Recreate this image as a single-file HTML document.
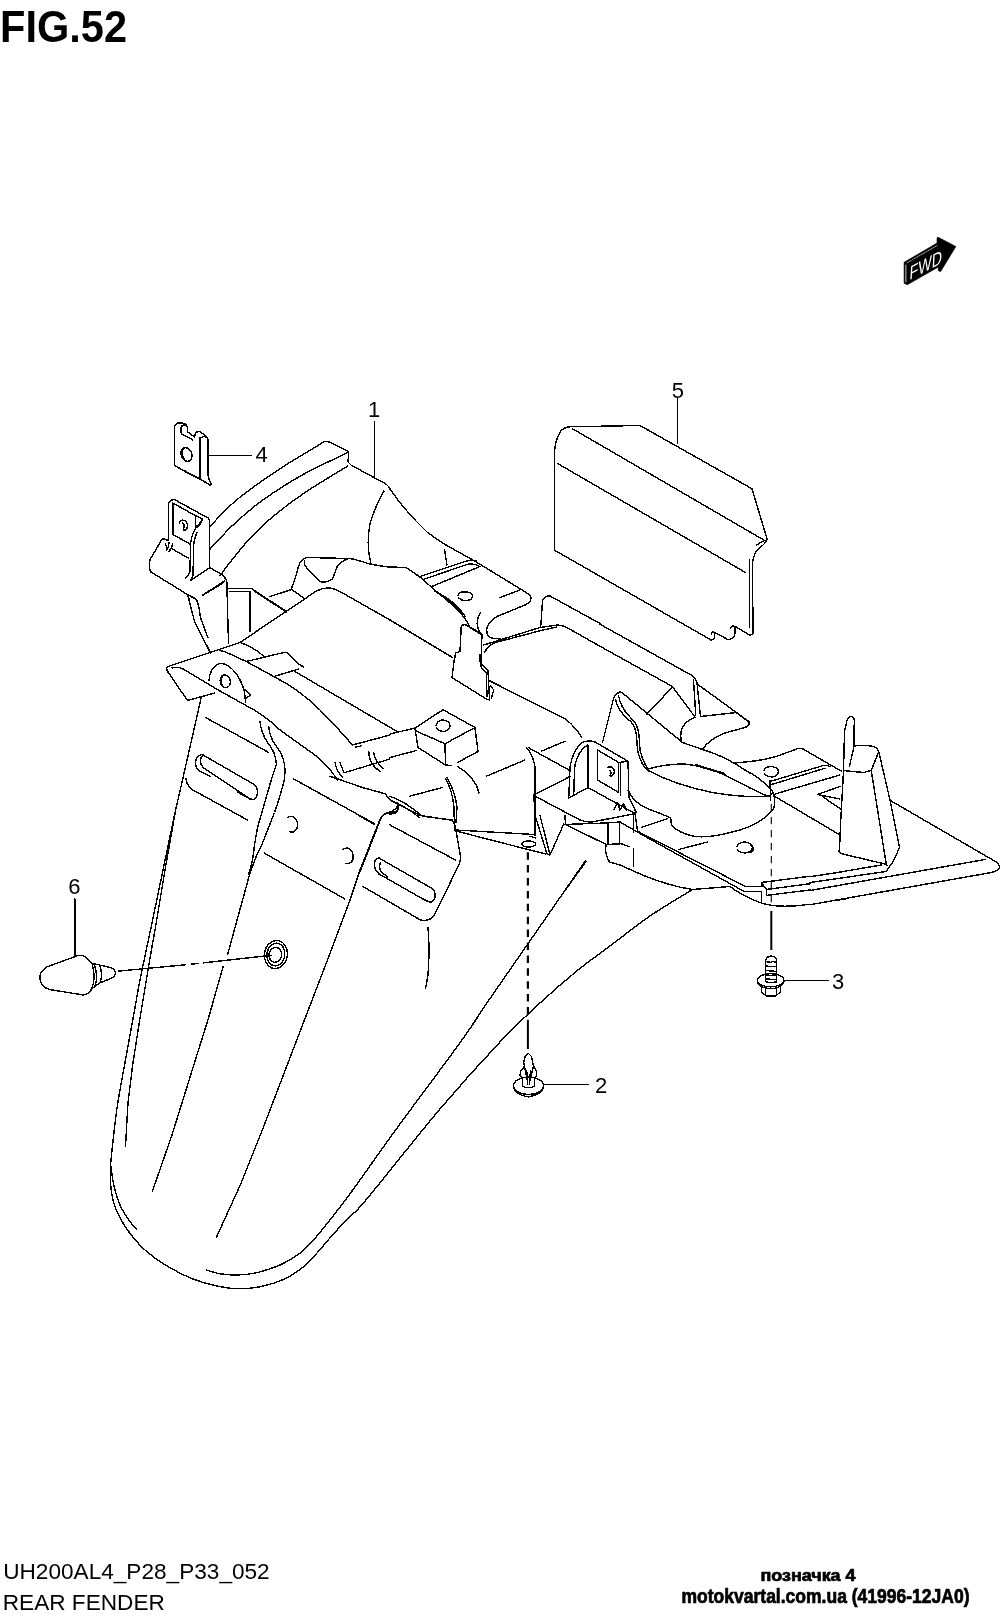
<!DOCTYPE html>
<html><head><meta charset="utf-8"><title>FIG.52 REAR FENDER</title>
<style>
html,body{margin:0;padding:0;background:#fff;}
body{width:1000px;height:1622px;overflow:hidden;font-family:"Liberation Sans",sans-serif;}
svg{display:block;position:absolute;left:0;top:0;}
svg text{font-family:"Liberation Sans",sans-serif;fill:#000;stroke:none;}
.ln path,.ln line,.ln polyline,.ln ellipse,.ln circle{vector-effect:non-scaling-stroke;}
</style></head><body>
<svg width="1000" height="1622" viewBox="0 0 1000 1622" style="filter:grayscale(1)">
<rect x="0" y="0" width="1000" height="1622" fill="#fff"/>
<!-- 00_text.frag -->
<g id="labels">
<text x="0" y="41.6" font-size="44.3" font-weight="bold" textLength="127" lengthAdjust="spacingAndGlyphs">FIG.52</text>
<text x="3.2" y="1578.5" font-size="22" textLength="266.5" lengthAdjust="spacingAndGlyphs">UH200AL4_P28_P33_052</text>
<text x="2.8" y="1610.2" font-size="22" textLength="162" lengthAdjust="spacingAndGlyphs">REAR FENDER</text>
<g stroke="#000" stroke-width="0.7" stroke-linejoin="round">
<text x="808" y="1580.5" font-size="16" font-weight="bold" text-anchor="middle" textLength="95" lengthAdjust="spacingAndGlyphs" style="stroke:#000">позначка 4</text>
<text x="681.5" y="1603" font-size="19.5" font-weight="bold" textLength="288" lengthAdjust="spacingAndGlyphs" style="stroke:#000">motokvartal.com.ua (41996-12JA0)</text>
</g>
</g>
<!-- 10_A1.frag -->
<!-- tile [140,400,390,600] x4 -->
<g class="ln" transform="translate(140,400) scale(0.25)" fill="none" stroke="#000" stroke-width="1.4" shape-rendering="crispEdges" stroke-linecap="round" stroke-linejoin="round">
<!-- clip 4 -->
<path d="M137,262 L137,112 Q139,92 160,91 Q186,92 190,110 L190,127 L218,148 L222,132 Q226,126 240,127 L262,142 Q272,148 272,160 L272,298 Q274,322 286,338 L280,340 L240,316 L137,262"/>
<path d="M190,110 Q186,100 176,100 Q164,102 164,116 L165,135 L212,160"/>
<path d="M240,150 L240,316"/>
<path d="M243,152 Q256,140 268,152"/>
<path d="M180,286 L240,317 M178,283 L238,314"/>
<ellipse cx="186" cy="218" rx="21" ry="28" transform="rotate(-22 186 218)"/>
<path d="M172,196 Q162,214 178,240"/>
<path d="M273,222 L447,222"/>
</g>
<text x="261.5" y="461.8" font-size="22" text-anchor="middle">4</text>
<g class="ln" transform="translate(140,400) scale(0.25)" fill="none" stroke="#000" stroke-width="1.4" shape-rendering="crispEdges" stroke-linecap="round" stroke-linejoin="round">
<!-- fender top arcs -->
<path d="M976,364 Q940,424 920,496 Q908,560 916,616 L924,654"/>
<path d="M836,634 L856,637 L920,656 L952,662 L1000,669"/>
<path d="M938,88 L938,306"/>
<!-- pocket shape -->
<path d="M607,752 L628,690 Q635,640 665,630 L836,634 Q800,645 788,668 L770,716 Q745,735 718,726 L664,668 Q652,650 660,640"/>
</g>
<text x="374" y="417" font-size="22" text-anchor="middle">1</text>
<!-- 10b_arcs.frag -->
<!-- fender top arcs (source coords) -->
<g class="ln" fill="none" stroke="#000" stroke-width="1.4" shape-rendering="crispEdges" stroke-linecap="round" stroke-linejoin="round">
<path d="M209.9,526.8 C212.2,524.3 219.0,516.5 224.0,511.6 C229.0,506.7 233.3,502.5 240.0,497.2 C246.7,491.9 256.0,485.2 264.0,479.6 C272.0,474.0 280.0,468.7 288.0,463.6 C296.0,458.5 306.1,452.8 312.0,449.2 C317.9,445.6 321.3,443.2 323.2,442.0 Q325.5,440.8 328,441.5 L347.2,450.8 Q348.8,452 348.5,454.5 L348,462 L351.2,465.2 L386,484"/>
<path d="M209.9,549.2 C213.6,545.3 224.3,533.3 232.0,526.0 C239.7,518.7 248.0,511.5 256.0,505.2 C264.0,498.9 272.0,493.6 280.0,488.4 C288.0,483.2 296.0,478.4 304.0,474.0 C312.0,469.6 321.2,465.3 328.0,462.0 C334.8,458.7 342.0,455.6 347.5,452.6"/>
<path d="M220,576 Q226,567 233.6,558.0 C236.0,555.1 242.9,546.0 248.0,540.4 C253.1,534.8 258.7,529.3 264.0,524.4 C269.3,519.5 273.3,516.0 280.0,510.8 C286.7,505.6 296.0,498.7 304.0,493.2 C312.0,487.7 320.7,482.5 328.0,478.0 C335.3,473.5 344.7,468.0 348.0,466.0"/>
</g>
<!-- 11_A1b.frag -->
<!-- tile [140,480,300,608] x6.25 : bracket -->
<g class="ln" transform="translate(140,480) scale(0.16)" fill="none" stroke="#000" stroke-width="1.4" shape-rendering="crispEdges" stroke-linecap="round" stroke-linejoin="round">
<path d="M180,378 L178,150 Q184,124 215,122 L428,239 Q436,246 436,265 L436,548"/>
<path d="M205,142 L205,340 L312,400"/>
<path d="M208,145 L345,222 L392,246 L350,300 L345,222"/>
<path d="M200,430 L305,490"/>
<path d="M392,246 Q375,285 350,300 Q322,340 316,400 L312,575 Q305,600 285,612"/>
<path d="M356,330 Q336,370 334,420 L332,590 Q328,612 318,626 L436,548"/>
<path d="M246,268 Q256,244 280,254 Q300,270 296,296 Q290,316 274,314"/>
<path d="M268,268 Q282,284 272,308"/>
<path d="M180,378 L140,366 L62,498 Q54,530 64,572 L300,718 L345,742 Q362,760 368,800"/>
<path d="M300,718 L318,800"/>
<path d="M160,400 L172,436 M182,392 L176,420 L166,440 M204,398 L196,426 L180,448"/>
<path d="M436,548 L520,596 Q542,620 546,650 L548,800"/>
<path d="M390,720 L527,632"/>
</g>
<!-- 12_A2.frag -->
<!-- tile [390,480,640,680] x4 -->
<g class="ln" transform="translate(390,480) scale(0.25)" fill="none" stroke="#000" stroke-width="1.4" shape-rendering="crispEdges" stroke-linecap="round" stroke-linejoin="round">
<path d="M-16,16 Q-6,24 0,36 Q60,125 150,210 L215,255 L340,325 L545,450 Q572,465 560,486 Q555,494 540,500 L430,545 Q395,565 388,590 Q382,620 405,632 L440,636"/>
<path d="M218,278 L228,340"/>
<path d="M120,386 L300,326 Q320,320 345,323"/>
<path d="M130,399 L310,337 Q335,332 360,346 L165,427"/>
<path d="M0,347 L65,351 L120,388 L165,428 L250,500 Q300,545 320,590 L370,622"/>
<path d="M180,445 Q250,480 290,540 M200,455 Q270,495 300,545"/>
<path d="M440,470 L520,440"/>
<path d="M272,462 Q276,446 295,448 Q322,446 330,462 Q332,478 310,482 Q284,484 274,470"/>
<path d="M362,530 Q335,575 362,612"/>
<path d="M375,660 L600,590 L672,580 L700,586 L840,665"/>
<path d="M378,690 Q395,655 430,648 L600,603 L668,588"/>
<path d="M603,586 L610,482 Q618,462 640,464 L840,574"/>
<path d="M258,720 L262,692 L280,686 L285,586 Q292,576 305,580 L368,616 L364,720"/>
<path d="M358,700 L359,720"/>
<path d="M0,560 L250,710"/>
</g>
<!-- 13_part5.frag -->
<!-- part 5: tile [530,410,780,610] x4 -->
<g class="ln" transform="translate(530,410) scale(0.25)" fill="none" stroke="#000" stroke-width="1.4" shape-rendering="crispEdges" stroke-linecap="round" stroke-linejoin="round">
<path d="M97,560 L97,190 Q97,120 125,82 Q140,68 162,67 L440,62 L888,315 L948,515 Q950,524 930,542 Q896,560 890,612 L892,892"/>
<path d="M170,75 L935,520 M905,542 Q925,525 942,522"/>
<path d="M112,215 L862,650"/>
<path d="M878,600 L878,870"/>
<path d="M590,-46 L590,135"/>
</g>
<g class="ln" fill="none" stroke="#000" stroke-width="1.4" shape-rendering="crispEdges" stroke-linecap="round" stroke-linejoin="round">
<path d="M753,633 Q752.5,635 750,635.3 L735,626.4 L734.8,635.5 Q733,639.5 727.5,639.4 L715,632.5 L714.4,638 Q713,640.5 711,640 L554.2,550"/>
<path d="M735,626.4 Q731,625 730.8,628.5 M715,632.5 Q711.5,631 711.4,634.5"/>
</g>
<text x="677.8" y="397.5" font-size="22" text-anchor="middle">5</text>
<!-- 14_B1.frag -->
<!-- tile [140,580,390,780] x4 -->
<g class="ln" transform="translate(140,580) scale(0.25)" fill="none" stroke="#000" stroke-width="1.4" shape-rendering="crispEdges" stroke-linecap="round" stroke-linejoin="round">
<path d="M190,58 L218,165 L282,292"/>
<path d="M215,70 Q232,80 236,110 L242,150 L272,232"/>
<path d="M250,62 L335,10"/>
<path d="M347,0 L354,255"/>
<path d="M352,34 L445,34 L585,125"/>
<path d="M357,46 L440,46 L440,205"/>
<path d="M456,44 L585,128"/>
<path d="M520,66 L607,38 M607,38 L660,76"/>
<path d="M115,345 L400,250 L585,125 L660,76 Q715,28 760,32 Q780,35 800,46 L1000,160"/>
<path d="M400,250 Q450,265 495,305"/>
<path d="M300,452 L190,482 L112,368 Q100,350 115,345"/>
<path d="M128,352 Q150,345 172,356 L320,444 L460,522 Q520,560 560,600 L700,700 Q760,750 790,800"/>
<path d="M320,282 Q340,284 360,296 L425,326 L535,386 Q640,440 720,520 Q790,590 850,660 L1000,620"/>
<path d="M425,326 L575,290 Q586,288 592,294 L640,340 L656,348"/>
<path d="M535,386 L636,356"/>
<path d="M620,366 L1035,610"/>
<path d="M862,668 L884,664"/>
<path d="M276,402 Q278,350 320,333 Q355,335 385,375 Q410,410 418,450 L422,488"/>
<ellipse cx="341" cy="405" rx="20" ry="26" transform="rotate(-15 341 405)"/>
<path d="M330,384 Q318,405 334,428"/>
<path d="M420,440 L442,460 L425,472"/>
<path d="M245,470 L170,800"/>
<path d="M262,550 L515,690"/>
<path d="M480,565 Q484,610 510,650 Q545,690 545,740 L525,800"/>
<path d="M515,585 Q516,625 545,665 Q578,705 580,760 L578,800"/>
<path d="M780,730 Q785,765 812,792 M800,730 L816,772"/>
<path d="M915,685 Q915,735 960,766 M935,690 Q940,730 976,756"/>
<path d="M820,770 L1000,716"/>
</g>
<!-- 15_B2.frag -->
<!-- tile [390,660,640,860] x4 -->
<g class="ln" transform="translate(390,660) scale(0.25)" fill="none" stroke="#000" stroke-width="1.4" shape-rendering="crispEdges" stroke-linecap="round" stroke-linejoin="round">
<path d="M257,0 L248,70 L388,158 L398,160 L392,42 L366,18 L364,0"/>
<path d="M359,0 L365,30 L385,50 L388,145"/>
<path d="M400,100 L415,120 L405,155"/>
<path d="M396,82 L700,235 Q745,270 768,312"/>
<path d="M0,296 L100,272 L212,199 L340,270 L220,335 L104,284"/>
<path d="M100,274 L112,350 L222,420 L246,422 M220,335 L222,420 M340,272 L352,366 L270,410"/>
<path d="M184,262 Q188,244 208,240 Q236,240 240,262 Q240,282 214,286 Q192,284 186,272"/>
<path d="M0,390 L106,362"/>
<path d="M78,545 L210,510 M385,465 L540,400 M605,365 L700,325"/>
<path d="M222,476 Q250,520 256,590 L258,682"/>
<path d="M228,470 Q262,530 268,590 L264,650"/>
<path d="M270,426 Q320,455 345,500 L356,532"/>
<path d="M0,545 Q60,565 130,625 L250,640"/>
<path d="M0,560 Q55,580 120,632"/>
<path d="M0,660 L262,800"/>
<path d="M30,575 Q40,600 18,614 L0,616"/>
<path d="M262,680 L578,698 M264,684 L622,776"/>
<path d="M546,350 Q575,385 580,430 L580,700"/>
<path d="M556,352 L716,440"/>
<path d="M720,466 L575,540 L580,620 L628,776 L640,780 L695,656"/>
<path d="M600,622 L640,780"/>
<path d="M586,548 L760,640 Q790,652 820,646 L976,615"/>
<path d="M715,552 L720,430 Q728,370 765,332 Q790,318 820,328 L952,405 L956,550 L985,610"/>
<path d="M735,538 L738,435 Q745,375 782,346 L792,340 L792,510 L715,552 M792,510 L976,612"/>
<path d="M830,360 L830,480 L915,530 L915,410 Z M915,410 L952,405 M921,416 L922,540"/>
<path d="M868,432 Q884,420 896,438 Q902,460 882,466 M880,440 Q888,450 880,462"/>
<path d="M896,600 L910,570 L920,600 L934,576 L946,600"/>
<ellipse cx="555" cy="736" rx="28" ry="12"/>
<path d="M560,705 L582,712"/>
</g>
<!-- 16_B3.frag -->
<!-- tile [600,620,850,820] x4 -->
<g class="ln" transform="translate(600,620) scale(0.25)" fill="none" stroke="#000" stroke-width="1.4" shape-rendering="crispEdges" stroke-linecap="round" stroke-linejoin="round">
<path d="M0,17 L355,215 Q382,226 388,252 L402,386 L545,370 L598,410 Q596,424 580,430 L500,452 Q440,475 410,516"/>
<path d="M0,105 L288,265 L380,388 M290,268 L186,378"/>
<path d="M374,240 L383,380"/>
<path d="M394,260 L598,408"/>
<path d="M380,390 Q335,405 324,445 Q320,470 328,490"/>
<path d="M10,490 L50,330 Q56,296 80,288 Q92,290 102,302 L330,490 L410,518 Q500,545 580,600 L600,612"/>
<path d="M62,318 Q70,360 110,395 Q140,415 146,460 L150,520 Q160,570 186,598"/>
<path d="M74,302 Q82,350 120,388 Q152,415 156,460 L160,520 Q170,565 192,596"/>
<path d="M186,598 Q260,575 340,576 Q420,585 500,620 L600,672"/>
<path d="M192,602 Q300,660 450,690 Q530,704 600,706"/>
<path d="M380,581 L500,617 M384,579 L496,613"/>
<path d="M540,572 L600,566"/>
</g>
<!-- 17_B4.frag -->
<!-- tile [750,700,1000,900] x4 -->
<g class="ln" transform="translate(750,700) scale(0.25)" fill="none" stroke="#000" stroke-width="1.4" shape-rendering="crispEdges" stroke-linecap="round" stroke-linejoin="round">
<path d="M358,598 L362,500 L374,285 L378,125 L390,74 Q400,62 412,68 Q418,72 417,85 L416,185 L398,265"/>
<path d="M416,185 Q440,178 490,185 Q508,190 515,206 L560,400 L598,590 L575,642"/>
<path d="M515,206 L485,282 L455,290 L380,283"/>
<path d="M485,282 L520,500 L540,626 L546,656"/>
<path d="M358,598 Q352,606 362,614 L540,656 L550,662"/>
<path d="M558,400 L985,648 Q1002,662 996,674 Q988,686 960,691 L240,819"/>
<path d="M240,707 L350,690 L525,660"/>
<path d="M240,762 L940,638"/>
<path d="M240,730 L545,686 L575,642"/>
<path d="M355,800 L386,795"/>
<path d="M0,246 Q60,240 110,224 L190,195 Q200,192 212,196 L366,285"/>
<path d="M56,282 Q60,268 82,266 Q112,268 114,286 Q112,306 88,308 Q64,306 58,294"/>
<path d="M80,326 L290,263 Q305,260 320,266 M80,340 L300,273 M100,376 L360,300"/>
<path d="M362,345 L270,378 L360,396 M290,386 L362,436"/>
<path d="M100,386 L360,540"/>
<path d="M0,290 Q50,320 90,365 Q104,395 96,430 Q80,465 0,506"/>
<path d="M0,385 L76,386 M80,322 L82,400"/>
<path d="M0,352 L60,380 Q80,388 92,372"/>
<path d="M0,580 Q18,590 12,604 L0,610"/>
</g>
<!-- 18_C3.frag -->
<!-- tile [560,790,810,990] x4 -->
<g class="ln" transform="translate(560,790) scale(0.25)" fill="none" stroke="#000" stroke-width="1.4" shape-rendering="crispEdges" stroke-linecap="round" stroke-linejoin="round">
<path d="M300,92 L310,165 L740,385 L808,385"/>
<path d="M15,138 L185,132 L240,128 L330,180 L735,405 L805,405 L805,446"/>
<path d="M192,135 L192,215 M238,130 L238,215 M295,100 L295,170 M295,235 L295,305"/>
<path d="M20,104 L22,138 L185,218 L245,215 L276,226"/>
<path d="M185,220 Q176,250 198,288 L240,300 L330,340 Q440,385 530,398 L680,386 Q730,425 800,450 Q870,476 1000,457"/>
<path d="M105,285 L0,430"/>
<path d="M808,385 L805,370 L1000,345 M806,372 L825,396 L826,420 M825,398 L1000,375 M830,421 L1000,400"/>
<path d="M708,226 Q712,210 738,208 Q768,210 770,230 Q768,250 740,252 Q716,250 710,238"/>
<path d="M475,238 L590,208 M325,150 L428,115"/>
<path d="M760,146 Q720,162 680,170 Q600,192 540,186 Q480,175 446,142 L443,112 Q400,92 350,75 Q290,48 272,0"/>
</g>
<!-- 19_C2.frag -->
<!-- tile [360,800,610,1000] x4 -->
<g class="ln" transform="translate(360,800) scale(0.25)" fill="none" stroke="#000" stroke-width="1.4" shape-rendering="crispEdges" stroke-linecap="round" stroke-linejoin="round">
<path d="M0,288 L85,70 Q92,56 108,54 L146,46 Q152,40 152,20"/>
<path d="M120,0 L240,62 L362,80 Q380,86 383,118 L402,225 Q402,245 396,258 L300,456 Q285,482 255,482 Q245,482 235,476 L10,345"/>
<path d="M0,65 L56,97"/>
<path d="M76,232 L290,355 Q306,372 298,396 Q288,412 266,404 L76,296 Q54,276 58,250 Q62,232 76,232"/>
<path d="M82,250 Q74,270 86,290 L112,308 M220,380 L284,410"/>
<path d="M272,510 Q280,600 272,700 L262,755"/>
</g>
<!-- 20_C1.frag -->
<!-- tile [150,760,400,960] x4 -->
<g class="ln" transform="translate(150,760) scale(0.25)" fill="none" stroke="#000" stroke-width="1.4" shape-rendering="crispEdges" stroke-linecap="round" stroke-linejoin="round">
<path d="M130,80 L100,210 L50,450 L0,690"/>
<path d="M100,215 L60,440 L20,680 L0,792"/>
<path d="M144,76 Q146,100 168,118 L390,240"/>
<path d="M485,80 Q450,200 430,270 L418,340 Q412,410 394,456"/>
<path d="M538,76 Q520,150 498,210 L445,345 L430,372 L400,452 L311,776"/>
<path d="M575,76 L900,256"/>
<path d="M456,372 L780,556"/>
<path d="M548,232 Q560,222 576,228 Q594,244 590,268 Q582,292 560,288"/>
<path d="M772,358 Q786,348 800,356 Q816,372 812,396 Q804,418 782,414"/>
<path d="M720,65 L850,110 L940,135 L962,160"/>
<path d="M990,182 Q984,204 940,214 Q925,225 915,250 L840,440 L800,560 L710,800"/>
</g>
<!-- 21_slot1.frag -->
<!-- upper-left slot, source coords -->
<g class="ln" fill="none" stroke="#000" stroke-width="1.4" shape-rendering="crispEdges" stroke-linecap="round" stroke-linejoin="round">
<path d="M203.1,755 L255,785 Q258,789 257.6,793 Q257,797.5 253.75,799.2 Q252,799.6 250,798.75 L203.1,767.5 Q200,764 200.6,760 Q200.8,756.5 203.1,755"/>
<path d="M203.1,754.4 Q198.5,754.8 196.6,758 Q194.8,762 196.25,766.9 Q197.5,770 200,771.25 L210,776.5"/>
<path d="M237.5,792.1 L250,799"/>
</g>
<!-- 30_lower.frag -->
<!-- lower fender long lines, source coords -->
<g class="ln" fill="none" stroke="#000" stroke-width="1.4" shape-rendering="crispEdges" stroke-linecap="round" stroke-linejoin="round">
<path d="M150.0,932.5 C148.3,940.4 142.6,966.9 140.0,980.0 C137.4,993.1 136.7,998.2 134.4,1011.0 C132.1,1023.8 128.8,1041.6 126.0,1057.0 C123.2,1072.4 119.9,1089.5 117.7,1103.4 C115.5,1117.3 114.3,1129.7 113.1,1140.4 C111.9,1151.1 110.8,1159.2 110.5,1167.5 C110.2,1175.8 110.3,1182.9 111.2,1190.0 C112.2,1197.1 113.5,1203.3 116.2,1210.0 C119.0,1216.7 122.7,1223.3 127.5,1230.0 C132.3,1236.7 138.3,1244.0 145.0,1250.0 C151.7,1256.0 159.6,1261.5 167.5,1266.2 C175.4,1271.0 184.2,1275.4 192.5,1278.8 C200.8,1282.1 209.6,1284.6 217.5,1286.2 C225.4,1287.9 232.5,1288.8 240.0,1288.8 C247.5,1288.8 255.0,1287.9 262.5,1286.2 C270.0,1284.6 278.3,1281.9 285.0,1278.8 C291.7,1275.6 297.1,1271.9 302.5,1267.5 C307.9,1263.1 312.5,1257.9 317.5,1252.5 C322.5,1247.1 327.1,1241.0 332.5,1235.0 C337.9,1229.0 344.4,1222.1 350.0,1216.2 C355.6,1210.4 351.0,1217.9 366.0,1200.0 C381.0,1182.1 417.7,1135.3 440.0,1109.0 C462.3,1082.7 483.3,1059.7 500.0,1042.0 C516.7,1024.3 527.0,1015.0 540.0,1003.0 C553.0,991.0 566.0,979.8 577.7,970.2 C589.4,960.8 598.0,955.0 610.0,946.0 C622.0,937.0 636.2,925.4 650.0,916.0 C663.8,906.6 685.4,893.9 692.5,889.5"/>
<path d="M155,930 L150,958 L140,1018 L132.5,1066 L128,1103 L125.5,1146"/>
<path d="M110.5,1163.8 C111.0,1167.3 112.2,1178.1 113.8,1185.0 C115.3,1191.9 117.5,1199.2 120.0,1205.0 C122.5,1210.8 125.9,1215.8 128.8,1220.0 C131.6,1224.2 135.6,1228.3 137.0,1230.0"/>
<path d="M223.1,966.8 L208.4,1018.4 L189.9,1077.5 L171.4,1136.7 L152.5,1191"/>
<path d="M327.5,960 L311,1002.9 L286.9,1065.8 L262.9,1128.6 L240.7,1184.1 L216.4,1237.3"/>
<path d="M586.0,860.0 C577.9,871.7 553.7,906.7 537.5,930.0 C521.3,953.3 501.6,981.7 489.0,1000.0 C476.4,1018.3 476.8,1019.3 462.0,1040.0 C447.2,1060.7 418.7,1098.4 400.0,1124.0 C381.3,1149.6 362.5,1176.7 350.0,1193.8 C337.5,1210.8 331.7,1217.9 325.0,1226.2 C318.3,1234.6 314.6,1239.0 310.0,1243.8 C305.4,1248.5 302.5,1251.5 297.5,1255.0 C292.5,1258.5 286.7,1262.1 280.0,1265.0 C273.3,1267.9 264.6,1270.8 257.5,1272.5 C250.4,1274.2 243.8,1274.8 237.5,1275.0 C231.2,1275.2 225.2,1274.6 220.0,1273.8 C214.8,1272.9 208.5,1270.6 206.2,1270.0"/>
</g>
<!-- 40_parts.frag -->
<!-- part 6 plug + grommet -->
<g class="ln" transform="translate(20,860) scale(0.3)" fill="none" stroke="#000" stroke-width="1.4" shape-rendering="crispEdges" stroke-linecap="round" stroke-linejoin="round">
<path d="M66,395 Q64,372 90,356 L195,318 Q210,316 222,326 L240,345 Q254,390 240,428 Q230,448 212,450 L100,432 Q70,424 66,395"/>
<path d="M240,345 L265,350 L300,358 Q316,362 318,375 Q318,390 300,396 L265,410 L244,426"/>
<path d="M247,347 Q262,385 250,420 M266,352 Q276,380 268,408"/>
<path d="M183,130 L183,318"/>
<ellipse cx="853" cy="315" rx="38" ry="47" transform="rotate(8 853 315)"/>
<ellipse cx="853" cy="315" rx="30" ry="38" transform="rotate(8 853 315)"/>
<ellipse cx="851" cy="316" rx="21" ry="25" transform="rotate(8 851 316)"/>
</g>
<text x="74.3" y="893.6" font-size="22" text-anchor="middle">6</text>
<g fill="none" stroke="#000" stroke-width="1.4" shape-rendering="crispEdges"><path d="M117.7,971.2 L186.2,964.7 M190.8,964.2 L199.1,963.4 M202.8,962.9 L272,955.2"/></g>
<!-- part 2 clip -->
<g class="ln" transform="translate(490,1030) scale(0.15)" fill="none" stroke="#000" stroke-width="1.4" shape-rendering="crispEdges" stroke-linecap="round" stroke-linejoin="round">
<ellipse cx="257" cy="372" rx="100" ry="58"/>
<path d="M158,385 Q165,430 255,446 Q345,432 356,385"/>
<path d="M218,330 L218,375 Q255,395 295,375 L295,330"/>
<path d="M218,330 L200,300 L205,275 L230,240 L225,215 L235,175 L255,155 L275,175 L285,215 L290,240 L310,275 L312,300 L295,330"/>
<path d="M230,240 L252,352 M290,240 L262,352 M245,270 L250,360 M270,270 L262,360"/>
<path d="M360,362 L658,362"/>
</g>
<text x="601" y="1092.7" font-size="22" text-anchor="middle">2</text>
<!-- part 3 bolt -->
<g class="ln" transform="translate(720,900) scale(0.15)" fill="none" stroke="#000" stroke-width="1.4" shape-rendering="crispEdges" stroke-linecap="round" stroke-linejoin="round">
<path d="M305,545 L305,400 Q308,378 340,374 Q375,378 378,400 L378,545"/>
<path d="M305,410 L340,416 M305,440 L378,446 M305,470 L378,476 M305,500 L378,506 M305,526 L378,532 M345,410 L378,414"/>
<path d="M305,545 Q340,556 378,545"/>
<ellipse cx="338" cy="535" rx="88" ry="44"/>
<path d="M250,545 Q256,585 338,592 Q420,585 426,545"/>
<path d="M275,578 L275,615 L310,640 L370,640 L405,612 L405,578"/>
<path d="M305,592 L305,636 M375,592 L375,636"/>
<path d="M428,537 L725,537"/>
</g>
<text x="838" y="988.8" font-size="22" text-anchor="middle">3</text>
<!-- dashed leaders -->
<g fill="none" stroke="#000">
<path d="M771.3,804 L771.3,903" stroke-width="1.1" stroke-dasharray="7.2 5.8"/>
<path d="M771.3,911 L771.3,950" stroke-width="2"/>
<path d="M527.9,852.2 L527.9,1014.6" stroke-width="2.2" stroke-dasharray="7.5 5.4"/>
<path d="M527.9,1019.8 L527.9,1049" stroke-width="2"/>
</g>
<!-- 41_fwd.frag -->
<!-- FWD arrow -->
<g>
<polygon points="904.1,262.3 937,243.05 937,237.8 937.8,237.1 955.9,246.55 940.5,271.75 938.4,270.7 938.05,267.2 907.25,284.85 904.1,283.3" fill="#000" stroke="#000" stroke-width="0.6" stroke-linejoin="round"/>
<path d="M905.9,264.6 L905.9,282.2" stroke="#fff" stroke-width="0.8" fill="none"/>
<path d="M906.8,263 L937.6,245.3" stroke="#fff" stroke-width="0.7" fill="none" stroke-dasharray="2.2 0.5"/>
<text transform="matrix(0.73,-0.39,-0.05,1,909.3,280.2)" font-size="19.5" style="fill:#fff">FWD</text>
</g>
</svg>
</body></html>
